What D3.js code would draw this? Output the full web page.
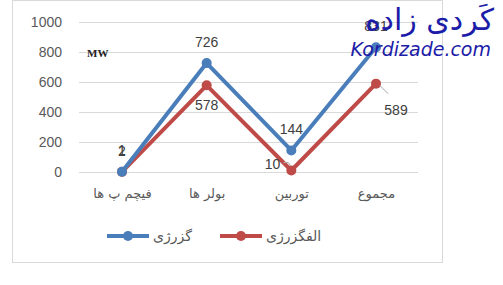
<!DOCTYPE html>
<html>
<head>
<meta charset="utf-8">
<script src="https://cdn.jsdelivr.net/npm/d3@7"></script>
<style>
  body { margin: 0; background: #fff; }
  svg { display: block; }
</style>
</head>
<body>
<div id="chart"></div>
<script>
// ── data ──
const categories = ['فیچم پ ها', 'بولر ها', 'توربین', 'مجموع'];
const exergyValues = [2, 726, 144, 831];      // blue series
const lossValues   = [1, 578, 10, 589];       // red series
const seriesNames  = ['گزرژی', 'الفگزرژی'];
const yTicks = [0, 200, 400, 600, 800, 1000];

const W = 503, H = 285;
const svg = d3.select('#chart').append('svg').attr('width', W).attr('height', H);

// chart frame
svg.append('rect')
  .attr('x', 12.5).attr('y', 0.5).attr('width', 430).attr('height', 262)
  .attr('fill', '#fff').attr('stroke', '#d9d9d9');

const x = d3.scalePoint().domain(categories).range([122, 376]);
const y = d3.scaleLinear().domain([0, 1000]).range([172, 22]);

// gridlines
svg.append('g').selectAll('line').data(yTicks).join('line')
  .attr('x1', 79).attr('x2', 418)
  .attr('y1', d => Math.round(y(d)) + 0.5).attr('y2', d => Math.round(y(d)) + 0.5)
  .attr('stroke', '#d9d9d9').attr('stroke-width', 1);

// y axis labels
const yAxis = d3.axisLeft(y).tickValues(yTicks).tickFormat(d3.format('d')).tickSize(0).tickPadding(0);
const yg = svg.append('g').attr('transform', 'translate(62,0)').call(yAxis);
yg.select('.domain').remove();
yg.selectAll('text')
  .attr('font-family', 'Liberation Sans, Arial, sans-serif')
  .attr('font-size', 14).attr('fill', '#595959');

// x axis labels
const xAxis = d3.axisBottom(x).tickSize(0).tickPadding(0);
const xg = svg.append('g').attr('transform', 'translate(0,189)').call(xAxis);
xg.select('.domain').remove();
xg.selectAll('text')
  .attr('font-family', 'DejaVu Sans, sans-serif')
  .attr('font-size', 13).attr('fill', '#595959');

// MW unit
svg.append('text').attr('x', 87).attr('y', 57)
  .attr('font-family', 'Liberation Serif, serif').attr('font-size', 11)
  .attr('font-weight', 'bold').attr('fill', '#222').text('MW');

const line = d3.line().x((d, i) => x(categories[i])).y(d => y(d));

const series = [
  { values: exergyValues, color: '#4a7ebb' },
  { values: lossValues,   color: '#be4b48' },
];

series.slice().reverse().forEach(s => {
  svg.append('path').datum(s.values)
    .attr('d', line).attr('fill', 'none')
    .attr('stroke', s.color).attr('stroke-width', 4)
    .attr('stroke-linejoin', 'round');
  svg.append('g').selectAll('circle').data(s.values).join('circle')
    .attr('cx', (d, i) => x(categories[i])).attr('cy', d => y(d))
    .attr('r', 5).attr('fill', s.color);
});

// leader lines for red labels
svg.append('line')
  .attr('x1', x(categories[3]) + 4).attr('y1', y(lossValues[3]) + 2)
  .attr('x2', x(categories[3]) + 12).attr('y2', y(lossValues[3]) + 10)
  .attr('stroke', '#a6a6a6');
svg.append('polyline')
  .attr('points', `${x(categories[2]) - 8},${y(lossValues[2]) - 8} ${x(categories[2]) - 3},${y(lossValues[2]) - 8} ${x(categories[2]) - 1},${y(lossValues[2]) - 5}`)
  .attr('fill', 'none').attr('stroke', '#a6a6a6');

// data labels
const lbl = (xx, yy, t, anchor) => svg.append('text')
  .attr('x', xx).attr('y', yy).attr('text-anchor', anchor || 'middle')
  .attr('font-family', 'Liberation Sans, Arial, sans-serif')
  .attr('font-size', 14).attr('fill', '#404040').text(t);

exergyValues.forEach((v, i) => lbl(x(categories[i]), y(v) - 16, v));
lbl(x(categories[0]), y(lossValues[0]) - 17, lossValues[0]);
lbl(x(categories[1]), y(lossValues[1]) + 25, lossValues[1]);
lbl(x(categories[2]) - 11, y(lossValues[2]) - 2, lossValues[2], 'end');
lbl(x(categories[3]) + 20, y(lossValues[3]) + 31, lossValues[3]);

// legend
const legend = [
  { name: seriesNames[0], color: '#4a7ebb', x0: 107 },
  { name: seriesNames[1], color: '#be4b48', x0: 220 },
];
legend.forEach(l => {
  const g = svg.append('g');
  g.append('line').attr('x1', l.x0).attr('x2', l.x0 + 42)
    .attr('y1', 236).attr('y2', 236)
    .attr('stroke', l.color).attr('stroke-width', 4);
  g.append('circle').attr('cx', l.x0 + 21).attr('cy', 236).attr('r', 5).attr('fill', l.color);
  g.append('text').attr('x', l.x0 + 46).attr('y', 241)
    .attr('font-family', 'DejaVu Sans, sans-serif').attr('font-size', 14)
    .attr('fill', '#595959').text(l.name);
});

// watermark
svg.append('text').attr('x', 494).attr('y', 30).attr('text-anchor', 'end')
  .attr('font-family', 'DejaVu Sans, sans-serif').attr('font-size', 30)
  .attr('fill', '#1c1ca8').attr('letter-spacing', 6).text('کَردی زاده');
svg.append('text').attr('x', 491).attr('y', 56).attr('text-anchor', 'end')
  .attr('font-family', 'DejaVu Sans, sans-serif').attr('font-style', 'italic')
  .attr('font-size', 19).attr('fill', '#1c1ca8').text('Kordizade.com');
</script>
</body>
</html>
